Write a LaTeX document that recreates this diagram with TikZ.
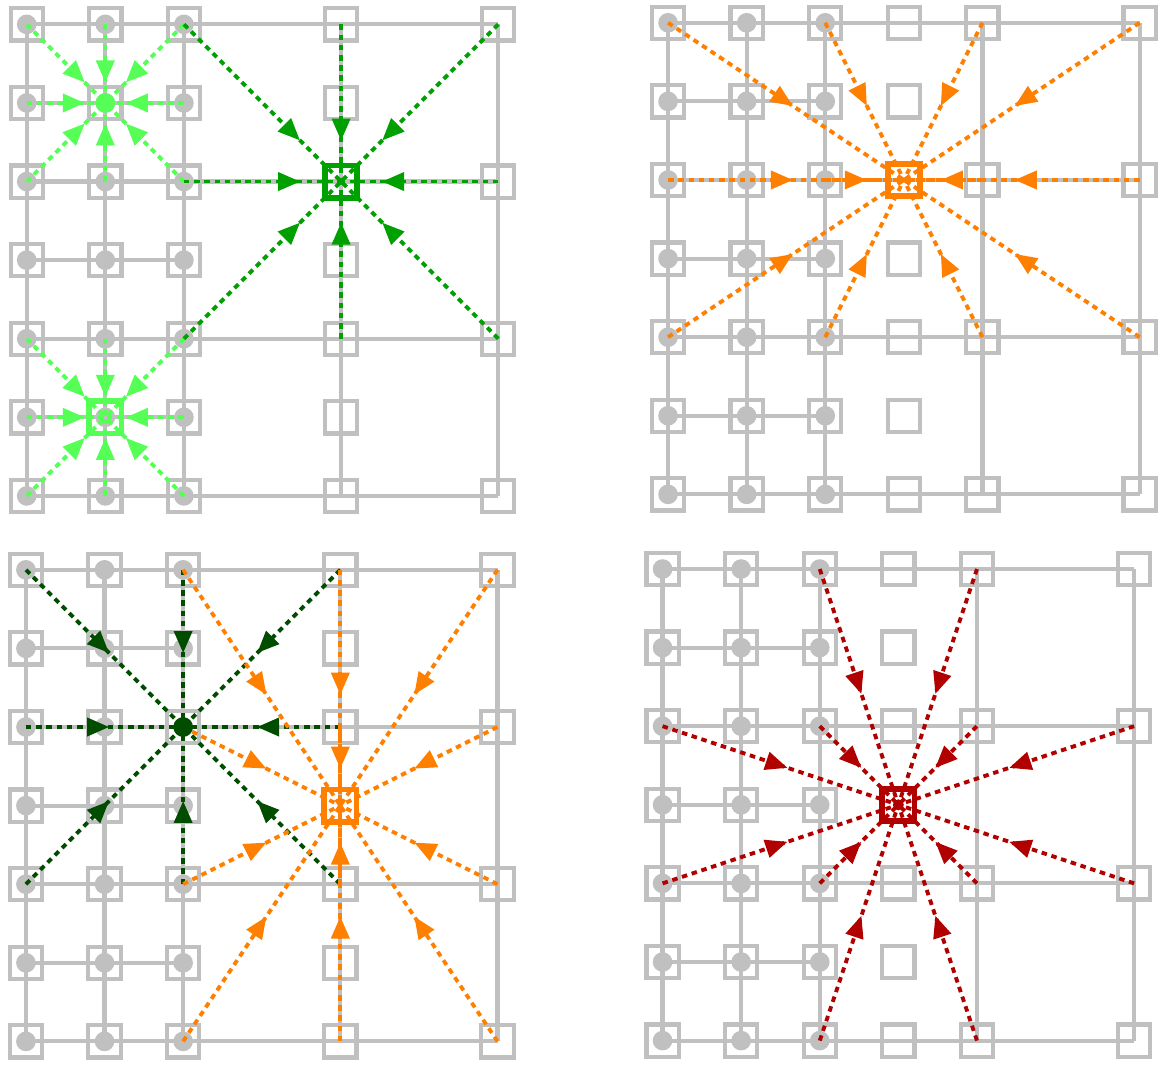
\documentclass[tikz,border=0pt]{standalone}
\usepackage{xcolor}
\usepackage{tikz}
\usetikzlibrary{arrows.meta,decorations.markings}

\definecolor{meshgrey}{RGB}{192,192,192}
\definecolor{lightgreen}{RGB}{85,255,85}
\definecolor{midgreen}{RGB}{0,160,0}
\definecolor{darkgreen}{RGB}{0,77,0}
\definecolor{floworange}{RGB}{255,128,0}
\definecolor{flowred}{RGB}{176,0,0}

\tikzset{
  mesh/.style={draw=meshgrey, line width=1.5pt},
  cell/.style={rectangle, draw=meshgrey, line width=1.5pt, minimum size=0.41cm, inner sep=0pt},
  dof/.style={circle, fill=meshgrey, minimum size=0.25cm, inner sep=0pt},
  hub/.style={rectangle, draw=#1, line width=2.1pt, minimum size=0.41cm, inner sep=0pt},
  flow/.style 2 args={draw=#1, line width=1.4pt, dash pattern=on 2pt off 1.7pt,
    postaction={decorate},
    decoration={markings, mark=at position #2 with {\arrow{Triangle[length=8pt,width=6.5pt,color=#1]}}}},
}

\begin{document}
\begin{tikzpicture}
  \useasboundingbox (0,0) rectangle (14.81,13.56);

  % Meshes: fine block on the left, hanging column 4 (left panels) or 3 (right panels)
  \foreach \px/\py/\hx/\pn in {0.34/7.25/4/p1, 8.5/7.27/3/p2, 0.33/0.31/4/p3, 8.43/0.32/3/p4} {
    \begin{scope}[shift={(\px,\py)}]
      \foreach \i in {0,...,6} \foreach \j in {0,...,6} \coordinate (\pn-\i-\j) at (\i,\j);
      \foreach \j in {0,2,4,6} \draw[mesh] (\pn-0-\j) -- (\pn-6-\j);
      \foreach \j in {1,3,5} \draw[mesh] (\pn-0-\j) -- (\pn-2-\j);
      \foreach \i in {0,1,2,4,6} \draw[mesh] (\pn-\i-0) -- (\pn-\i-6);
      \foreach \i in {0,1,2,\hx} \foreach \j in {0,...,6}
        \node[cell] (\pn-s-\i-\j) at (\pn-\i-\j) {};
      \foreach \i in {4,6} \foreach \j in {0,2,4,6}
        \node[cell] (\pn-s-\i-\j) at (\pn-\i-\j) {};
      \foreach \i in {0,1,2} \foreach \j in {0,...,6}
        \node[dof] (\pn-d-\i-\j) at (\pn-\i-\j) {};
    \end{scope}
  }

  % Panel 1: two fine patches and one coarse point
  \foreach \s in {0-4,1-4,2-4,0-5,2-5,0-6,1-6,2-6}
    \draw[flow={lightgreen}{0.74}] (p1-\s) -- (p1-1-5);
  \foreach \s in {0-0,1-0,2-0,0-1,2-1,0-2,1-2,2-2}
    \draw[flow={lightgreen}{0.74}] (p1-\s) -- (p1-1-1);
  \foreach \s in {2-6,4-6,6-6,2-4,6-4,2-2,4-2,6-2}
    \draw[flow={midgreen}{0.74}] (p1-\s) -- (p1-4-4);
  \node[dof, fill=lightgreen] (p1-a) at (p1-1-5) {};
  \node[hub=lightgreen] (p1-b) at (p1-1-1) {};
  \node[hub=midgreen] (p1-c) at (p1-4-4) {};

  % Panel 2: hanging point
  \foreach \x in {0,2,4,6} \foreach \y in {2,4,6}
    \draw[flow={floworange}{0.53}] (p2-\x-\y) -- (p2-3-4);
  \node[hub=floworange] (p2-a) at (p2-3-4) {};

  % Panel 3: fine point and hanging point
  \foreach \s in {0-6,2-6,4-6,0-4,4-4,0-2,2-2,4-2}
    \draw[flow={darkgreen}{0.53}] (p3-\s) -- (p3-2-4);
  \foreach \x in {2,4,6} \foreach \y in {0,2,4,6}
    \draw[flow={floworange}{0.53}] (p3-\x-\y) -- (p3-4-3);
  \node[dof, fill=darkgreen] (p3-a) at (p3-2-4) {};
  \node[hub=floworange] (p3-b) at (p3-4-3) {};

  % Panel 4: interior hanging point
  \foreach \s in {2-6,4-6,0-4,2-4,4-4,6-4,0-2,2-2,4-2,6-2,2-0,4-0}
    \draw[flow={flowred}{0.53}] (p4-\s) -- (p4-3-3);
  \node[hub=flowred] (p4-a) at (p4-3-3) {};
  \node[circle, fill=flowred, minimum size=0.14cm, inner sep=0pt] (p4-b) at (p4-3-3) {};
\end{tikzpicture}
\end{document}
